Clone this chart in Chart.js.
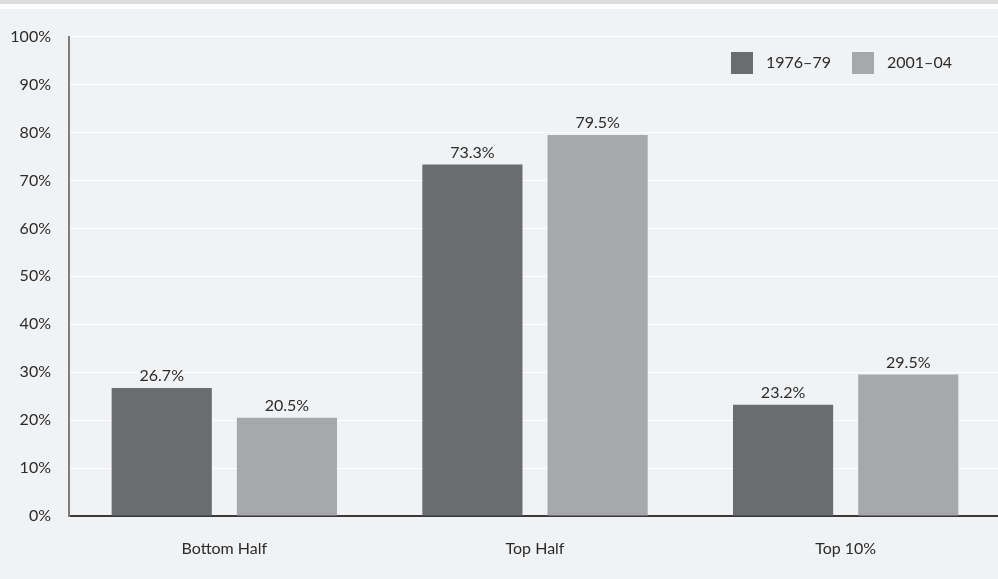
<!DOCTYPE html>
<html>
<head>
<meta charset="utf-8">
<script src="https://cdn.jsdelivr.net/npm/chart.js@4/dist/chart.umd.min.js"></script>
<style>
  html, body { margin: 0; padding: 0; background: #fff; overflow: hidden; }
  .top-band { height: 4px; background: #dcdddf; }
  .panel { position: absolute; top: 9px; left: 0; width: 998px; height: 570px; background: #f1f2f4; overflow: hidden; }
</style>
</head>
<body>
<div class="top-band"></div>
<div class="panel"><canvas id="chart" width="1001" height="570"></canvas></div>
<script>
const groups = ['Bottom Half', 'Top Half', 'Top 10%'];
const period1 = [26.7, 73.3, 23.2];
const period2 = [20.5, 79.5, 29.5];
const seriesNames = ['1976–79', '2001–04'];
const seriesColors = ['#6b6c70', '#a7a8ab'];

const fontFamily = 'Lato, "Open Sans", sans-serif';
const textColor = '#2b2b2b';

// value above each bar
const barValues = {
  id: 'barValues',
  afterDatasetsDraw(chart) {
    const ctx = chart.ctx;
    ctx.save();
    ctx.font = '16px ' + fontFamily;
    ctx.fillStyle = textColor;
    ctx.textAlign = 'center';
    ctx.textBaseline = 'bottom';
    chart.data.datasets.forEach((ds, i) => {
      chart.getDatasetMeta(i).data.forEach((bar, j) => {
        ctx.fillText(ds.data[j].toFixed(1) + '%', bar.x, bar.y - 4);
      });
    });
    ctx.restore();
  }
};

// legend in the top right corner of the plot
const cornerLegend = {
  id: 'cornerLegend',
  afterDraw(chart) {
    const ctx = chart.ctx;
    ctx.save();
    ctx.font = '16px ' + fontFamily;
    ctx.textBaseline = 'middle';
    let x = 731;
    const y = 54;
    chart.data.datasets.forEach(ds => {
      ctx.fillStyle = ds.backgroundColor;
      ctx.fillRect(x, y - 11, 22, 22);
      ctx.fillStyle = textColor;
      ctx.fillText(ds.label, x + 35, y);
      x += 121;
    });
    ctx.restore();
  }
};

new Chart(document.getElementById('chart'), {
  type: 'bar',
  data: {
    labels: groups,
    datasets: [
      { label: seriesNames[0], data: period1, backgroundColor: seriesColors[0] },
      { label: seriesNames[1], data: period2, backgroundColor: seriesColors[1] }
    ]
  },
  options: {
    responsive: false,
    animation: false,
    categoryPercentage: 0.806,
    barPercentage: 0.8,
    layout: { padding: { top: 27, right: 0, left: 0, bottom: 0 } },
    plugins: {
      legend: { display: false },
      tooltip: { enabled: false }
    },
    scales: {
      x: {
        grid: { display: false, drawTicks: false },
        border: { color: '#3a3a3a', width: 2 },
        ticks: { color: textColor, font: { family: fontFamily, size: 16 }, padding: 23 },
        afterFit(scale) { scale.height = 63; }
      },
      y: {
        min: 0,
        max: 100,
        grid: { color: '#ffffff', lineWidth: 1, drawTicks: false },
        border: { color: '#7d7d7d', width: 2 },
        ticks: {
          stepSize: 10,
          color: textColor,
          font: { family: fontFamily, size: 16 },
          padding: 18,
          callback: v => v + '%'
        },
        afterFit(scale) { scale.width = 69; }
      }
    }
  },
  plugins: [barValues, cornerLegend]
});
</script>
</body>
</html>
